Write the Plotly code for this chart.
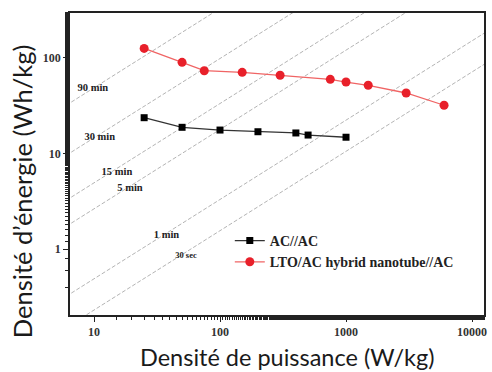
import plotly.graph_objects as go

# Data
ac_power = [25, 50, 100, 200, 400, 500, 1000]
ac_energy = [23.7, 18.8, 17.6, 16.9, 16.4, 15.6, 14.8]

lto_power = [25, 50, 75, 150, 300, 750, 1000, 1500, 3000, 6000]
lto_energy = [126, 90, 73.6, 70.8, 65.9, 59.8, 56, 51.8, 43, 32]

# Constant-time guide lines: energy at P=5 and P=20000
guide_power_ends = [5, 20000]
guide_e_start = [27.4, 8.2, 2.77, 1.48, 0.274, 0.129]
guide_e_end = [26900, 8050, 2720, 1455, 269, 127]

# Guide labels
guide_labels = ["90 min", "30 min", "15 min", "5 min", "1 min", "30 sec"]
label_power = [9.8, 11.1, 15.2, 19.3, 37.6, 53.7]
label_energy = [48.5, 14.9, 6.4, 4.36, 1.40, 0.845]
label_sizes = [10.5, 10.5, 10.5, 10.5, 10.5, 8.5]

x_ticks = [10, 100, 1000, 10000]
y_ticks = [1, 10, 100]

fig = go.Figure()

for e0, e1 in zip(guide_e_start, guide_e_end):
    fig.add_trace(go.Scatter(
        x=guide_power_ends, y=[e0, e1], mode="lines",
        line=dict(color="#b4b4b4", width=1, dash="4px,2px"),
        showlegend=False, hoverinfo="skip"))

fig.add_trace(go.Scatter(
    x=label_power, y=label_energy, mode="text", text=guide_labels,
    textfont=dict(family="Liberation Serif", size=label_sizes, color="#222222",
                  weight="bold"),
    showlegend=False, hoverinfo="skip"))

fig.add_trace(go.Scatter(
    x=ac_power, y=ac_energy, mode="lines+markers", name="AC//AC",
    line=dict(color="#333333", width=1.3),
    marker=dict(symbol="square", size=7, color="#000000")))

fig.add_trace(go.Scatter(
    x=lto_power, y=lto_energy, mode="lines+markers",
    name="LTO/AC hybrid nanotube//AC",
    line=dict(color="#f06464", width=1.3),
    marker=dict(symbol="circle", size=9, color="#e8202a")))

axis_common = dict(
    type="log", showgrid=False, zeroline=False, automargin=False,
    showline=True, linecolor="#222222", linewidth=1.5, mirror=True,
    ticks="outside", ticklen=5, tickcolor="#222222", tickwidth=1,
    exponentformat="none",
    tickfont=dict(family="Liberation Serif", size=12, color="#333333", weight="bold"),
    minor=dict(ticks="outside", ticklen=3, tickcolor="#222222", showgrid=False),
)

fig.update_xaxes(
    **axis_common,
    range=[0.8095, 4.095], tickmode="array", tickvals=x_ticks,
    ticktext=[str(v) for v in x_ticks],
)
fig.update_yaxes(
    **axis_common,
    range=[-0.691, 2.471], tickmode="array", tickvals=y_ticks,
    ticktext=[str(v) for v in y_ticks],
)

fig.update_layout(
    width=492, height=372,
    margin=dict(l=70, r=8, t=13, b=57),
    paper_bgcolor="white", plot_bgcolor="white",
    legend=dict(x=0.386, y=0.298, xanchor="left", yanchor="top",
                bgcolor="rgba(0,0,0,0)",
                font=dict(family="Liberation Serif", size=14, color="#222222", weight="bold"),
                tracegroupgap=0, itemwidth=30),
    annotations=[
        dict(text="Densité de puissance (W/kg)", xref="paper", yref="paper",
             x=0.524, y=-0.140, xanchor="center", yanchor="middle", showarrow=False,
             font=dict(family="Lato", size=23.5, color="#1a1a1a")),
        dict(text="Densité d’énergie (Wh/kg)", xref="paper", yref="paper",
             x=-0.116, y=0.41, xanchor="center", yanchor="middle", showarrow=False,
             textangle=-90,
             font=dict(family="Lato", size=25.5, color="#1a1a1a")),
    ],
)

fig.write_html("out.html",
               config={"displayModeBar": False},
               post_script="document.body.style.margin='0';document.body.style.overflow='hidden';")
